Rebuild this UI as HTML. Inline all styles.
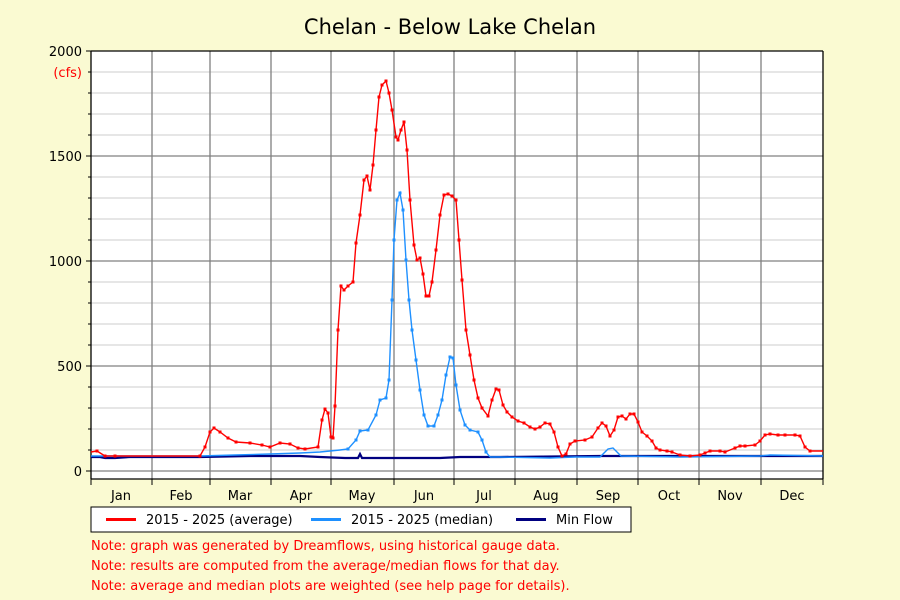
<!DOCTYPE html>
<html><head><meta charset="utf-8"><style>
html,body{margin:0;padding:0;background:#fafad2;}
svg{display:block;font-family:"DejaVu Sans","Liberation Sans",sans-serif;}
</style></head><body>
<svg width="900" height="600" viewBox="0 0 900 600" xmlns="http://www.w3.org/2000/svg">
<defs>
<marker id="mr" markerWidth="3" markerHeight="3" refX="1.5" refY="1.5" markerUnits="userSpaceOnUse"><rect width="3" height="3" fill="#ff0000"/></marker>
<marker id="mb" markerWidth="3" markerHeight="3" refX="1.5" refY="1.5" markerUnits="userSpaceOnUse"><rect width="3" height="3" fill="#1e90ff"/></marker>
</defs>
<rect width="900" height="600" fill="#fafad2"/>
<text x="450" y="34" font-size="21" text-anchor="middle" fill="#000">Chelan - Below Lake Chelan</text>
<rect x="91" y="51" width="732" height="428" fill="#fff"/>
<g stroke="#cccccc" stroke-width="1">
<line x1="91" y1="450" x2="823" y2="450"/><line x1="91" y1="429" x2="823" y2="429"/><line x1="91" y1="408" x2="823" y2="408"/><line x1="91" y1="387" x2="823" y2="387"/>
<line x1="91" y1="345" x2="823" y2="345"/><line x1="91" y1="324" x2="823" y2="324"/><line x1="91" y1="303" x2="823" y2="303"/><line x1="91" y1="282" x2="823" y2="282"/>
<line x1="91" y1="240" x2="823" y2="240"/><line x1="91" y1="219" x2="823" y2="219"/><line x1="91" y1="198" x2="823" y2="198"/><line x1="91" y1="177" x2="823" y2="177"/>
<line x1="91" y1="135" x2="823" y2="135"/><line x1="91" y1="114" x2="823" y2="114"/><line x1="91" y1="93" x2="823" y2="93"/><line x1="91" y1="72" x2="823" y2="72"/>
</g>
<g stroke="#808080" stroke-width="1.3">
<line x1="91" y1="471" x2="823" y2="471"/><line x1="91" y1="366" x2="823" y2="366"/><line x1="91" y1="261" x2="823" y2="261"/><line x1="91" y1="156" x2="823" y2="156"/>
<line x1="152" y1="51" x2="152" y2="479"/><line x1="210" y1="51" x2="210" y2="479"/><line x1="271" y1="51" x2="271" y2="479"/><line x1="331" y1="51" x2="331" y2="479"/><line x1="394" y1="51" x2="394" y2="479"/><line x1="454" y1="51" x2="454" y2="479"/><line x1="515" y1="51" x2="515" y2="479"/><line x1="577" y1="51" x2="577" y2="479"/><line x1="638" y1="51" x2="638" y2="479"/><line x1="699" y1="51" x2="699" y2="479"/><line x1="761" y1="51" x2="761" y2="479"/>
</g>
<g stroke="#000" stroke-width="1.3" fill="none">
<line x1="91" y1="51" x2="823" y2="51"/><line x1="91" y1="479" x2="823" y2="479"/><line x1="91" y1="51" x2="91" y2="479"/><line x1="823" y1="51" x2="823" y2="479"/>
</g>
<g stroke="#000" stroke-width="1">
<line x1="86" y1="51" x2="91" y2="51"/><line x1="86" y1="156" x2="91" y2="156"/><line x1="86" y1="261" x2="91" y2="261"/><line x1="86" y1="366" x2="91" y2="366"/><line x1="86" y1="471" x2="91" y2="471"/>
<line x1="88" y1="72" x2="91" y2="72"/><line x1="88" y1="93" x2="91" y2="93"/><line x1="88" y1="114" x2="91" y2="114"/><line x1="88" y1="135" x2="91" y2="135"/><line x1="88" y1="177" x2="91" y2="177"/><line x1="88" y1="198" x2="91" y2="198"/><line x1="88" y1="219" x2="91" y2="219"/><line x1="88" y1="240" x2="91" y2="240"/><line x1="88" y1="282" x2="91" y2="282"/><line x1="88" y1="303" x2="91" y2="303"/><line x1="88" y1="324" x2="91" y2="324"/><line x1="88" y1="345" x2="91" y2="345"/><line x1="88" y1="387" x2="91" y2="387"/><line x1="88" y1="408" x2="91" y2="408"/><line x1="88" y1="429" x2="91" y2="429"/><line x1="88" y1="450" x2="91" y2="450"/>
<line x1="91" y1="479" x2="91" y2="485"/><line x1="152" y1="479" x2="152" y2="485"/><line x1="210" y1="479" x2="210" y2="485"/><line x1="271" y1="479" x2="271" y2="485"/><line x1="331" y1="479" x2="331" y2="485"/><line x1="394" y1="479" x2="394" y2="485"/><line x1="454" y1="479" x2="454" y2="485"/><line x1="515" y1="479" x2="515" y2="485"/><line x1="577" y1="479" x2="577" y2="485"/><line x1="638" y1="479" x2="638" y2="485"/><line x1="699" y1="479" x2="699" y2="485"/><line x1="761" y1="479" x2="761" y2="485"/><line x1="823" y1="479" x2="823" y2="485"/>
</g>
<g font-size="13" fill="#000" text-anchor="end">
<text x="82" y="56">2000</text><text x="82" y="161">1500</text><text x="82" y="266">1000</text><text x="82" y="371">500</text><text x="82" y="476">0</text>
</g>
<text x="82" y="77" font-size="13" fill="#ff0000" text-anchor="end">(cfs)</text>
<g font-size="13" fill="#000" text-anchor="middle">
<text x="121" y="500">Jan</text><text x="181" y="500">Feb</text><text x="240" y="500">Mar</text><text x="301" y="500">Apr</text><text x="362" y="500">May</text><text x="424" y="500">Jun</text><text x="484" y="500">Jul</text><text x="546" y="500">Aug</text><text x="608" y="500">Sep</text><text x="669" y="500">Oct</text><text x="730" y="500">Nov</text><text x="792" y="500">Dec</text>
</g>
<polyline fill="none" stroke="#000080" stroke-width="2.2" points="91,457 100,457 105,458 115,458 130,457 200,457 250,456 300,456 320,457 345,458 358,458 360,454 362,458 370,458 380,458 400,458 440,458 460,457 500,457 600,456 700,456 823,456"/>
<polyline fill="none" stroke="#1e90ff" stroke-width="1.4" marker-mid="url(#mb)" points="340,450 348,449 356,440 360,431 368,430 376,415 380,400 386,398 389,380 392,300 394,240 397,200 400,193 403,210 406,260 409,300 412,330 416,360 420,390 424,415 428,426 434,426 438,415 442,400 446,375 450,357 453,358 456,385 460,410 465,425 470,430 478,432 482,440 486,452 490,457"/>
<polyline fill="none" stroke="#1e90ff" stroke-width="1.4" points="91,456 200,456 235,455 270,454 300,453 320,452 340,450"/>
<polyline fill="none" stroke="#1e90ff" stroke-width="1.4" points="490,457 500,457 550,458 575,457 600,457 608,449 613,448 617,452 621,456 680,457 760,456 770,455 823,456"/>
<polyline fill="none" stroke="#ff0000" stroke-width="1.4" marker-mid="url(#mr)" points="91,452 97,451 105,456 115,456 200,456 205,447 210,432 214,428 220,432 228,438 236,442 250,443 262,445 270,447 280,443 290,444 298,448 305,449 318,447 322,420 325,409 328,413 331,437 333,438 335,406 338,330 341,286 344,290 348,286 353,282 356,243 360,215 364,180 367,176 370,190 373,165 376,130 379,97 382,85 386,81 389,93 392,110 396,137 398,140 401,130 404,122 407,150 410,200 414,245 417,260 420,258 423,274 426,296 429,296 432,282 436,250 440,215 444,195 448,194 452,196 456,200 459,240 462,280 466,330 470,355 474,380 478,398 482,408 488,416 492,400 496,389 499,390 503,405 507,412 512,417 518,421 524,423 530,427 535,429 540,427 545,423 550,424 554,432 558,447 562,456 566,454 570,444 575,441 585,440 592,437 598,428 602,423 606,426 610,436 614,430 618,417 622,416 626,419 630,414 634,414 638,422 642,432 647,436 652,441 656,448 660,450 667,451 672,452 680,455 690,456 700,455 705,453 710,451 720,451 725,452 735,448 740,446 745,446 755,445 760,441 765,435 770,434 778,435 785,435 795,435 800,436 805,447 810,451 823,451"/>
<rect x="91" y="507" width="540" height="25" fill="#fff" stroke="#000" stroke-width="1"/>
<line x1="106" y1="519.5" x2="136" y2="519.5" stroke="#ff0000" stroke-width="3"/>
<text x="146" y="524" font-size="13" fill="#000">2015 - 2025 (average)</text>
<line x1="311" y1="519.5" x2="341" y2="519.5" stroke="#1e90ff" stroke-width="3"/>
<text x="351" y="524" font-size="13" fill="#000">2015 - 2025 (median)</text>
<line x1="516" y1="519.5" x2="546" y2="519.5" stroke="#000080" stroke-width="3"/>
<text x="556" y="524" font-size="13" fill="#000">Min Flow</text>
<g font-size="13" fill="#ff0000">
<text x="91" y="550">Note: graph was generated by Dreamflows, using historical gauge data.</text>
<text x="91" y="570">Note: results are computed from the average/median flows for that day.</text>
<text x="91" y="590">Note: average and median plots are weighted (see help page for details).</text>
</g>
</svg>
</body></html>
